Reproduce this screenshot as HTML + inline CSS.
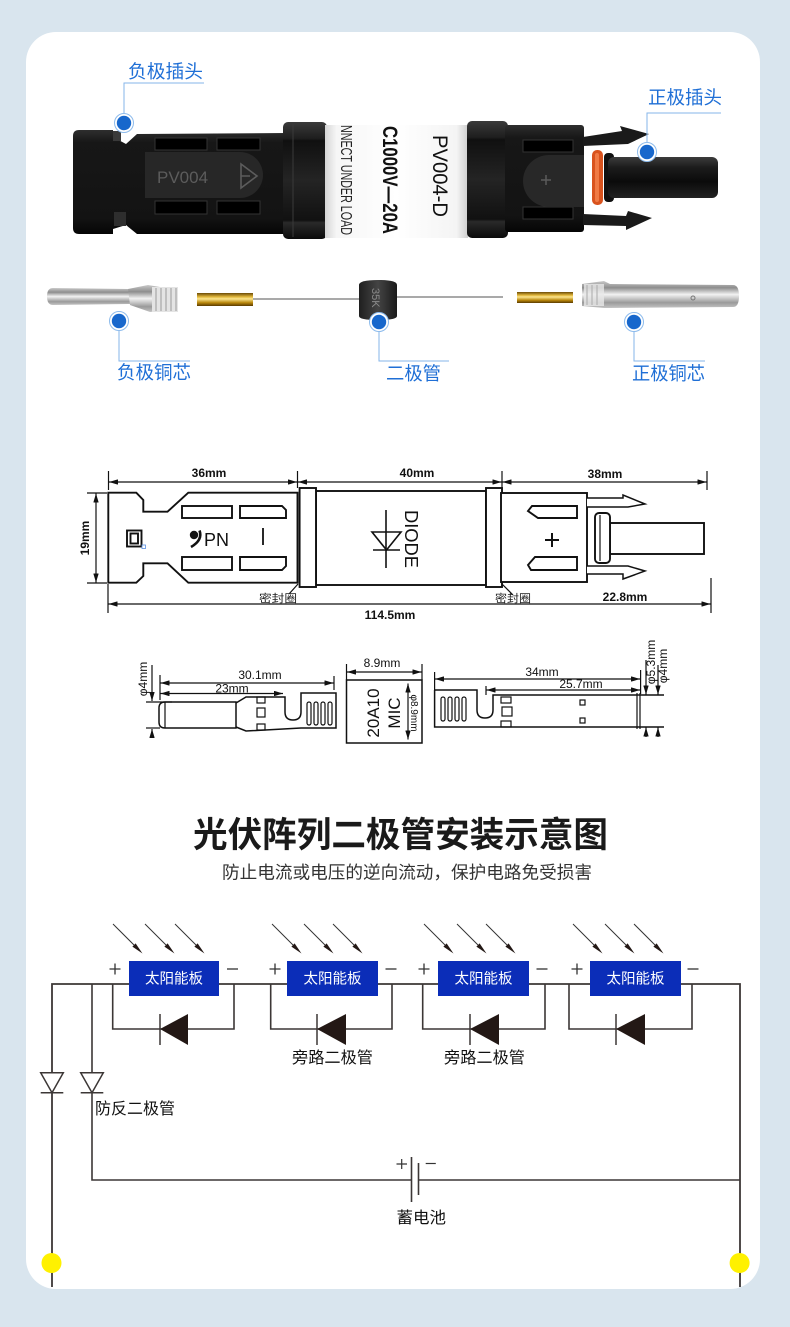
<!DOCTYPE html>
<html><head><meta charset="utf-8">
<style>
html,body{margin:0;padding:0;background:#d9e5ee;}
svg{display:block}
text{font-family:"Liberation Sans","Noto Sans CJK SC",sans-serif;}
</style></head><body>
<svg width="790" height="1327" viewBox="0 0 790 1327" xmlns="http://www.w3.org/2000/svg">
<defs>
<marker id="ar" viewBox="0 0 10 6" refX="10" refY="3" markerUnits="userSpaceOnUse" markerWidth="9" markerHeight="5.4" orient="auto-start-reverse"><path d="M0,0 L10,3 L0,6 Z" fill="#111"/></marker>
<linearGradient id="gBlk" x1="0" y1="0" x2="0" y2="1">
<stop offset="0" stop-color="#2e2e2e"/><stop offset="0.12" stop-color="#171717"/><stop offset="0.85" stop-color="#131313"/><stop offset="1" stop-color="#050505"/></linearGradient>
<linearGradient id="gNut" x1="0" y1="0" x2="0" y2="1">
<stop offset="0" stop-color="#3a3a3a"/><stop offset="0.14" stop-color="#1e1e1e"/><stop offset="0.16" stop-color="#101010"/><stop offset="0.5" stop-color="#242424"/><stop offset="0.84" stop-color="#111"/><stop offset="0.86" stop-color="#2a2a2a"/><stop offset="1" stop-color="#0a0a0a"/></linearGradient>
<linearGradient id="gLab" x1="0" y1="0" x2="1" y2="0">
<stop offset="0" stop-color="#d5d5d5"/><stop offset="0.08" stop-color="#f6f6f6"/><stop offset="0.5" stop-color="#ffffff"/><stop offset="0.92" stop-color="#f4f4f4"/><stop offset="1" stop-color="#cfcfcf"/></linearGradient>
<linearGradient id="gPin" x1="0" y1="0" x2="0" y2="1">
<stop offset="0" stop-color="#3c3c3c"/><stop offset="0.25" stop-color="#1c1c1c"/><stop offset="0.6" stop-color="#0b0b0b"/><stop offset="1" stop-color="#222"/></linearGradient>
<linearGradient id="gSil" x1="0" y1="0" x2="0" y2="1">
<stop offset="0" stop-color="#c9c9c9"/><stop offset="0.25" stop-color="#8e8e8e"/><stop offset="0.5" stop-color="#f2f2f2"/><stop offset="0.8" stop-color="#9a9a9a"/><stop offset="1" stop-color="#c4c4c4"/></linearGradient>
<linearGradient id="gGold" x1="0" y1="0" x2="0" y2="1">
<stop offset="0" stop-color="#6b4a05"/><stop offset="0.3" stop-color="#e2b83c"/><stop offset="0.45" stop-color="#fbe58e"/><stop offset="0.75" stop-color="#b8860b"/><stop offset="1" stop-color="#5a3a00"/></linearGradient>
<linearGradient id="gDio" x1="0" y1="0" x2="1" y2="0">
<stop offset="0" stop-color="#1f1f1f"/><stop offset="0.5" stop-color="#444"/><stop offset="1" stop-color="#1a1a1a"/></linearGradient>
</defs>

<!-- background + card -->
<rect width="790" height="1327" fill="#d9e5ee"/>
<rect x="26" y="32" width="734" height="1257" rx="30" fill="#ffffff"/>

<!-- ================= PHOTO: connector ================= -->
<!-- left plug -->
<path d="M79,130 L113,130 L113,137 L126,144 L137,134 L287,133 L287,234 L137,234 L126,225 L113,229 L113,234 L79,234 Q73,234 73,228 L73,136 Q73,130 79,130 Z" fill="url(#gBlk)"/>
<rect x="113" y="131" width="8" height="10" fill="#3a3a3a"/>
<rect x="114" y="212" width="12" height="14" fill="#2e2e2e"/>
<rect x="155" y="138" width="52" height="12" fill="#000" stroke="#333"/>
<rect x="217" y="138" width="43" height="12" fill="#000" stroke="#333"/>
<rect x="155" y="201" width="52" height="13" fill="#000" stroke="#333"/>
<rect x="217" y="201" width="43" height="13" fill="#000" stroke="#333"/>
<path d="M145,152 L240,152 A23,23 0 0 1 240,198 L145,198 Z" fill="#272727"/>
<text x="157" y="183" font-size="17" fill="#5c5c5c">PV004</text>
<path d="M241,164 L257,176 L241,188 Z M241,176 L250,176" fill="none" stroke="#5c5c5c" stroke-width="1.6"/>
<!-- left nut -->
<rect x="283" y="122" width="44" height="117" rx="5" fill="url(#gNut)"/>
<line x1="293" y1="124" x2="293" y2="237" stroke="#3a3a3a"/>
<!-- label -->
<rect x="325" y="125" width="143" height="113" fill="url(#gLab)"/>
<text transform="translate(433,135) rotate(90)" font-size="21" textLength="82" lengthAdjust="spacingAndGlyphs" fill="#111">PV004-D</text>
<text transform="translate(383,126) rotate(90)" font-size="21" font-weight="bold" textLength="108" lengthAdjust="spacingAndGlyphs" fill="#111">C1000V—20A</text>
<text transform="translate(341,125) rotate(90)" font-size="16" textLength="110" lengthAdjust="spacingAndGlyphs" fill="#222">NNECT UNDER LOAD</text>
<!-- right nut -->
<rect x="467" y="121" width="41" height="117" rx="5" fill="url(#gNut)"/>
<!-- right body -->
<rect x="505" y="125" width="79" height="107" rx="3" fill="url(#gBlk)"/>
<rect x="523" y="140" width="50" height="12" fill="#000" stroke="#333"/>
<rect x="523" y="207" width="50" height="12" fill="#000" stroke="#333"/>
<path d="M584,155 L549,155 A26,26 0 0 0 549,207 L584,207 Z" fill="#282828"/>
<path d="M541,180 L551,180 M546,175 L546,185" stroke="#5a5a5a" stroke-width="1.5"/>
<!-- clips -->
<path d="M583,137 L622,131 L620,126 L649,134 L628,144 L583,146 Z" fill="#1a1a1a"/>
<path d="M583,214 L626,216 L628,211 L652,218 L626,230 L626,226 L583,225 Z" fill="#1a1a1a"/>
<!-- o-ring + pin -->
<rect x="604" y="153" width="10" height="49" rx="4" fill="#111"/>
<rect x="592" y="150" width="11" height="55" rx="5" fill="#d9531e"/>
<rect x="595" y="153" width="4" height="49" rx="2" fill="#f07a45"/>
<rect x="608" y="157" width="110" height="41" rx="6" fill="url(#gPin)"/>

<!-- ================= components row ================= -->
<path d="M53,288 L130,289 L130,304 L53,305 Q47,305 47,296.5 Q47,288 53,288 Z" fill="url(#gSil)"/>
<path d="M128,289 L148,285 L160,287 L160,311 L150,312 L130,305 Z" fill="url(#gSil)"/>
<rect x="152" y="287" width="26" height="25" fill="#e4e4e4"/>
<g stroke="#9a9a9a" stroke-width="1"><line x1="156" y1="288" x2="156" y2="311"/><line x1="161" y1="288" x2="161" y2="311"/><line x1="166" y1="288" x2="166" y2="311"/><line x1="171" y1="288" x2="171" y2="311"/><line x1="176" y1="288" x2="176" y2="311"/></g>
<rect x="197" y="293" width="56" height="13" fill="url(#gGold)"/>
<line x1="253" y1="299" x2="360" y2="299" stroke="#a9a9a9" stroke-width="2"/>
<line x1="397" y1="297" x2="503" y2="297" stroke="#a9a9a9" stroke-width="2"/>
<path d="M359,285 Q359,280 378,280 Q397,280 397,285 L397,316 Q397,320 378,320 Q359,320 359,316 Z" fill="url(#gDio)"/>
<text transform="translate(372,288) rotate(90)" font-size="11" fill="#8a8a8a">35K</text>
<rect x="517" y="292" width="56" height="11" fill="url(#gGold)"/>
<path d="M582,284 L604,281 L610,284 L733,285 Q739,285 739,296 Q739,307 733,307 L610,308 L604,308 L582,306 Z" fill="url(#gSil)"/>
<rect x="584" y="284" width="20" height="22" fill="#e8e8e8" opacity="0.8"/>
<g stroke="#aaa" stroke-width="1"><line x1="587" y1="285" x2="587" y2="305"/><line x1="592" y1="285" x2="592" y2="305"/><line x1="597" y1="285" x2="597" y2="305"/></g>
<circle cx="693" cy="298" r="2" fill="none" stroke="#777"/>

<!-- ================= callouts ================= -->
<g stroke="#86b6ea" stroke-width="1" fill="none">
<polyline points="124,113 124,83 204,83"/>
<polyline points="647,142 647,113 721,113"/>
<polyline points="119,331 119,361 190,361"/>
<polyline points="379,332 379,361 449,361"/>
<polyline points="634,332 634,361 705,361"/>
</g>
<g>
<circle cx="124" cy="123" r="9.5" fill="#fff" stroke="#8dbbec"/><circle cx="124" cy="123" r="7.2" fill="#1767cc"/>
<circle cx="647" cy="152" r="9.5" fill="#fff" stroke="#8dbbec"/><circle cx="647" cy="152" r="7.2" fill="#1767cc"/>
<circle cx="119" cy="321" r="9.5" fill="#fff" stroke="#8dbbec"/><circle cx="119" cy="321" r="7.2" fill="#1767cc"/>
<circle cx="379" cy="322" r="9.5" fill="#fff" stroke="#8dbbec"/><circle cx="379" cy="322" r="7.2" fill="#1767cc"/>
<circle cx="634" cy="322" r="9.5" fill="#fff" stroke="#8dbbec"/><circle cx="634" cy="322" r="7.2" fill="#1767cc"/>
</g>
<g fill="#1f6fd6" font-size="18.5">
<text x="128" y="78" textLength="75" lengthAdjust="spacingAndGlyphs">负极插头</text>
<text x="648" y="104" textLength="74" lengthAdjust="spacingAndGlyphs">正极插头</text>
<text x="117" y="379" textLength="74" lengthAdjust="spacingAndGlyphs">负极铜芯</text>
<text x="386" y="380" textLength="55" lengthAdjust="spacingAndGlyphs">二极管</text>
<text x="632" y="380" textLength="73" lengthAdjust="spacingAndGlyphs">正极铜芯</text>
</g>

<!-- ================= technical drawing ================= -->
<g stroke="#111" stroke-width="1.2" fill="none">
<line x1="108.5" y1="471" x2="108.5" y2="490"/>
<line x1="297.5" y1="471" x2="297.5" y2="488"/>
<line x1="502" y1="471" x2="502" y2="490"/>
<line x1="707" y1="471" x2="707" y2="490"/>
<line x1="109" y1="482" x2="297" y2="482" marker-start="url(#ar)" marker-end="url(#ar)"/>
<line x1="298" y1="482" x2="501.5" y2="482" marker-start="url(#ar)" marker-end="url(#ar)"/>
<line x1="502.5" y1="482" x2="706.5" y2="482" marker-start="url(#ar)" marker-end="url(#ar)"/>
<line x1="87" y1="493" x2="107" y2="493"/>
<line x1="87" y1="583" x2="107" y2="583"/>
<line x1="96" y1="493.5" x2="96" y2="582.5" marker-start="url(#ar)" marker-end="url(#ar)"/>
<line x1="108" y1="584" x2="108" y2="613"/>
<line x1="711" y1="578" x2="711" y2="613"/>
<line x1="108.5" y1="604" x2="710.5" y2="604" marker-start="url(#ar)" marker-end="url(#ar)"/>
<line x1="298" y1="584" x2="289" y2="594"/>
<line x1="502" y1="584" x2="513" y2="595"/>
</g>
<g font-size="12" font-weight="bold" fill="#111" text-anchor="middle">
<text x="209" y="477">36mm</text>
<text x="417" y="477">40mm</text>
<text x="605" y="478">38mm</text>
<text x="390" y="619">114.5mm</text>
<text x="625" y="601">22.8mm</text>
<text transform="translate(89,538) rotate(-90)">19mm</text>
</g>
<g font-size="11" fill="#222">
<text x="259" y="602" textLength="38" lengthAdjust="spacingAndGlyphs">密封圈</text>
<text x="495" y="602" textLength="36" lengthAdjust="spacingAndGlyphs">密封圈</text>
</g>
<g stroke="#111" stroke-width="1.9" fill="#fff">
<path d="M108.3,492.7 L136.3,492.7 L143.3,500 L143.3,511.7 L167.5,511.7 L188.3,492.7 L297.5,492.7 L297.5,582.7 L188.3,582.7 L167.5,563.3 L143.3,563.3 L143.3,576 L136.3,582.7 L108.3,582.7 Z"/>
<rect x="182" y="506" width="50" height="12"/>
<path d="M240,506 L282,506 L286,510 L286,518 L240,518 Z"/>
<rect x="182" y="557" width="50" height="13"/>
<path d="M240,557 L286,557 L286,566 L282,570 L240,570 Z"/>
<rect x="127" y="530.5" width="14.5" height="16"/>
<rect x="130.5" y="533.5" width="7.5" height="10"/>
<rect x="316" y="491" width="170" height="94"/>
<rect x="299.6" y="488" width="16.4" height="99"/>
<rect x="486" y="488" width="16" height="99"/>
<rect x="501" y="493" width="86" height="89"/>
<path d="M532,506 L577,506 L577,518 L538,518 L528,511 Z"/>
<path d="M535,557 L577,557 L577,570 L531,570 L528,565 Z"/>
<path d="M587,498 L623,498 L623,495 L645,504 L628,507 L587,507" stroke-width="1.5"/>
<path d="M587,566 L628,566 L645,571 L623,579 L623,574 L587,574" stroke-width="1.5"/>
<rect x="610" y="523" width="94" height="31"/>
<rect x="595" y="513" width="15" height="50" rx="4"/>
</g>
<line x1="600" y1="515" x2="600" y2="561" stroke="#111" stroke-width="1.2"/>
<rect x="142" y="545" width="3.5" height="3.5" fill="#fff" stroke="#5a8fe0" stroke-width="0.8"/>
<circle cx="194" cy="535" r="4.2" fill="#111"/>
<path d="M199.5,530.5 Q203,540 191,547" stroke="#111" stroke-width="2.6" fill="none"/>
<text x="204" y="546" font-size="18" fill="#111">PN</text>
<line x1="263" y1="528" x2="263" y2="545" stroke="#111" stroke-width="1.8"/>
<g stroke="#111" stroke-width="1.6" fill="none">
<line x1="386" y1="510" x2="386" y2="568"/>
<path d="M372,532 L401,532 L386.5,550 Z"/>
<line x1="373" y1="550" x2="400" y2="550"/>
<path d="M545,540 L559,540 M552,533 L552,547" stroke-width="2"/>
</g>
<text transform="translate(405,510) rotate(90)" font-size="18" fill="#111" textLength="58" lengthAdjust="spacingAndGlyphs">DIODE</text>

<!-- small drawings -->
<g stroke="#111" stroke-width="1.2" fill="none">
<!-- left pin -->
<line x1="146" y1="702" x2="172" y2="702"/>
<line x1="146" y1="728" x2="160" y2="728"/>
<line x1="152" y1="665" x2="152" y2="701" marker-end="url(#ar)"/>
<line x1="152" y1="737" x2="152" y2="729" marker-end="url(#ar)"/>
<line x1="160" y1="675" x2="160" y2="700"/>
<line x1="334" y1="676" x2="334" y2="690"/>
<line x1="160.5" y1="683" x2="333.5" y2="683" marker-start="url(#ar)" marker-end="url(#ar)"/>
<line x1="160.5" y1="693.5" x2="283" y2="693.5" marker-start="url(#ar)" marker-end="url(#ar)"/>
<path d="M165,702 L236,702 L236,728 L165,728 Q159,728 159,722 L159,708 Q159,702 165,702 Z" stroke-width="1.5"/>
<line x1="165" y1="702" x2="165" y2="728"/>
<path d="M236,703 L246,697 L285,697 L285,712 Q285,720 293,720 Q301,720 301,712 L301,693 L336,693 L336,728 L301,728 L246,731 L236,727" stroke-width="1.5"/>
<rect x="257" y="697" width="8" height="6"/><rect x="257" y="708" width="8" height="9"/><rect x="257" y="724" width="8" height="6"/>
<rect x="307" y="702" width="4" height="23" rx="2"/><rect x="314" y="702" width="4" height="23" rx="2"/><rect x="321" y="702" width="4" height="23" rx="2"/><rect x="328" y="702" width="4" height="23" rx="2"/>
<!-- middle box -->
<line x1="346.5" y1="664" x2="346.5" y2="680"/>
<line x1="422" y1="664" x2="422" y2="680"/>
<line x1="347" y1="672" x2="421.5" y2="672" marker-start="url(#ar)" marker-end="url(#ar)"/>
<rect x="346.5" y="680" width="75.5" height="63" stroke-width="1.5"/>
<line x1="408" y1="683.5" x2="408" y2="739.5" marker-start="url(#ar)" marker-end="url(#ar)"/>
<!-- right pin -->
<line x1="434.6" y1="672" x2="434.6" y2="690"/>
<line x1="640.6" y1="670" x2="640.6" y2="694"/>
<line x1="486" y1="686" x2="486" y2="695"/>
<line x1="435" y1="679" x2="640" y2="679" marker-start="url(#ar)" marker-end="url(#ar)"/>
<line x1="486.5" y1="690" x2="640" y2="690" marker-start="url(#ar)" marker-end="url(#ar)"/>
<path d="M434.6,690 L477,690 L477,710 Q477,718 485,718 Q493,718 493,710 L493,695 L664,695 M434.6,690 L434.6,727 L664,727" stroke-width="1.5"/>
<rect x="441" y="697" width="4" height="24" rx="2"/><rect x="448" y="697" width="4" height="24" rx="2"/><rect x="455" y="697" width="4" height="24" rx="2"/><rect x="462" y="697" width="4" height="24" rx="2"/>
<rect x="501" y="697" width="10" height="6"/><rect x="502" y="707" width="10" height="9"/><rect x="501" y="721" width="10" height="6"/>
<rect x="580" y="700" width="5" height="5"/><rect x="580" y="718" width="5" height="5"/>
<line x1="637" y1="693" x2="637" y2="729"/><line x1="640" y1="693" x2="640" y2="729"/>
<line x1="646" y1="660" x2="646" y2="694.5" marker-end="url(#ar)"/>
<line x1="646" y1="737" x2="646" y2="727.5" marker-end="url(#ar)"/>
<line x1="658" y1="665" x2="658" y2="694.5" marker-end="url(#ar)"/>
<line x1="658" y1="737" x2="658" y2="727.5" marker-end="url(#ar)"/>
</g>
<g font-size="12" fill="#111" text-anchor="middle">
<text x="260" y="679">30.1mm</text>
<text x="232" y="692.5">23mm</text>
<text x="382" y="667">8.9mm</text>
<text x="542" y="676">34mm</text>
<text x="581" y="688">25.7mm</text>
<text transform="translate(147,679) rotate(-90)">φ4mm</text>
<text transform="translate(655,662) rotate(-90)">φ5.3mm</text>
<text transform="translate(667,666) rotate(-90)">φ4mm</text>
<text transform="translate(411,713) rotate(90)" font-size="10">φ8.9mm</text>
<text transform="translate(379,713) rotate(-90)" font-size="17">20A10</text>
<text transform="translate(400,713) rotate(-90)" font-size="17">MIC</text>
</g>

<!-- ================= title ================= -->
<text x="193" y="847" font-size="35" font-weight="bold" fill="#1a1a1a" textLength="415" lengthAdjust="spacingAndGlyphs">光伏阵列二极管安装示意图</text>
<text x="222" y="878.5" font-size="17.5" fill="#333" textLength="370" lengthAdjust="spacingAndGlyphs">防止电流或电压的逆向流动，保护电路免受损害</text>

<!-- ================= circuit ================= -->
<g stroke="#3c3736" stroke-width="1.6" fill="none">
<polyline points="52,1287 52,984 740,984 740,1287" stroke-width="1.8"/>
<polyline points="92,984 92,1180 411.5,1180"/>
<line x1="418.5" y1="1180" x2="740" y2="1180"/>
<line x1="411.5" y1="1157" x2="411.5" y2="1202"/>
<line x1="418.5" y1="1163" x2="418.5" y2="1195"/>
<polyline points="112.7,984 112.7,1029 234,1029 234,984"/>
<polyline points="270.7,984 270.7,1029 392,1029 392,984"/>
<polyline points="422.7,984 422.7,1029 545,1029 545,984"/>
<polyline points="569,984 569,1029 692,1029 692,984"/>
</g>
<!-- anti-reverse diodes -->
<g stroke="#3c3736" stroke-width="1.5" fill="#fff">
<polygon points="40.7,1072.7 63.3,1072.7 52,1092.7"/>
<line x1="40.7" y1="1092.7" x2="63.3" y2="1092.7"/>
<polygon points="80.7,1072.7 103.3,1072.7 92,1092.7"/>
<line x1="80.7" y1="1092.7" x2="103.3" y2="1092.7"/>
</g>
<!-- bypass diodes -->
<g fill="#231815" stroke="#3c3736" stroke-width="1.5">
<polygon points="160,1029 188,1014 188,1045" stroke="none"/><line x1="160" y1="1014" x2="160" y2="1045"/>
<polygon points="317,1029 346,1014 346,1045" stroke="none"/><line x1="317" y1="1014" x2="317" y2="1045"/>
<polygon points="470,1029 499,1014 499,1045" stroke="none"/><line x1="470" y1="1014" x2="470" y2="1045"/>
<polygon points="616,1029 645,1014 645,1045" stroke="none"/><line x1="616" y1="1014" x2="616" y2="1045"/>
</g>
<!-- panels -->
<g fill="#0b2db8">
<rect x="129" y="961" width="90" height="35"/>
<rect x="287" y="961" width="91" height="35"/>
<rect x="438" y="961" width="91" height="35"/>
<rect x="590" y="961" width="91" height="35"/>
</g>
<g fill="#fff" font-size="14.5" text-anchor="middle">
<text x="174" y="983.5">太阳能板</text>
<text x="332.5" y="983.5">太阳能板</text>
<text x="483.5" y="983.5">太阳能板</text>
<text x="635.5" y="983.5">太阳能板</text>
</g>
<!-- + / - -->
<g stroke="#333" stroke-width="1.3">
<path d="M109.5,969 L120.5,969 M115,963.5 L115,974.5"/><path d="M227,969 L238,969"/>
<path d="M269.5,969 L280.5,969 M275,963.5 L275,974.5"/><path d="M385.5,969 L396.5,969"/>
<path d="M418.5,969 L429.5,969 M424,963.5 L424,974.5"/><path d="M536.5,969 L547.5,969"/>
<path d="M571.5,969 L582.5,969 M577,963.5 L577,974.5"/><path d="M687.5,969 L698.5,969"/>
</g>
<!-- sun arrows -->
<g stroke="#333" stroke-width="1" fill="#231815">
<g transform="translate(113,924)"><line x1="0" y1="0" x2="21" y2="21"/><polygon points="29.5,29.5 22.6,19.4 19.4,22.6" stroke="none"/></g>
<g transform="translate(145,924)"><line x1="0" y1="0" x2="21" y2="21"/><polygon points="29.5,29.5 22.6,19.4 19.4,22.6" stroke="none"/></g>
<g transform="translate(175,924)"><line x1="0" y1="0" x2="21" y2="21"/><polygon points="29.5,29.5 22.6,19.4 19.4,22.6" stroke="none"/></g>
<g transform="translate(272,924)"><line x1="0" y1="0" x2="21" y2="21"/><polygon points="29.5,29.5 22.6,19.4 19.4,22.6" stroke="none"/></g>
<g transform="translate(304,924)"><line x1="0" y1="0" x2="21" y2="21"/><polygon points="29.5,29.5 22.6,19.4 19.4,22.6" stroke="none"/></g>
<g transform="translate(333,924)"><line x1="0" y1="0" x2="21" y2="21"/><polygon points="29.5,29.5 22.6,19.4 19.4,22.6" stroke="none"/></g>
<g transform="translate(424,924)"><line x1="0" y1="0" x2="21" y2="21"/><polygon points="29.5,29.5 22.6,19.4 19.4,22.6" stroke="none"/></g>
<g transform="translate(457,924)"><line x1="0" y1="0" x2="21" y2="21"/><polygon points="29.5,29.5 22.6,19.4 19.4,22.6" stroke="none"/></g>
<g transform="translate(486,924)"><line x1="0" y1="0" x2="21" y2="21"/><polygon points="29.5,29.5 22.6,19.4 19.4,22.6" stroke="none"/></g>
<g transform="translate(573,924)"><line x1="0" y1="0" x2="21" y2="21"/><polygon points="29.5,29.5 22.6,19.4 19.4,22.6" stroke="none"/></g>
<g transform="translate(605,924)"><line x1="0" y1="0" x2="21" y2="21"/><polygon points="29.5,29.5 22.6,19.4 19.4,22.6" stroke="none"/></g>
<g transform="translate(634,924)"><line x1="0" y1="0" x2="21" y2="21"/><polygon points="29.5,29.5 22.6,19.4 19.4,22.6" stroke="none"/></g>
</g>
<!-- circuit labels -->
<g fill="#111" font-size="16">
<text x="292" y="1063" textLength="81" lengthAdjust="spacingAndGlyphs">旁路二极管</text>
<text x="444" y="1063" textLength="81" lengthAdjust="spacingAndGlyphs">旁路二极管</text>
<text x="95" y="1114" textLength="80" lengthAdjust="spacingAndGlyphs">防反二极管</text>
<text x="396.5" y="1223" textLength="49.5" lengthAdjust="spacingAndGlyphs">蓄电池</text>
</g>
<g stroke="#333" stroke-width="1.2">
<path d="M396.5,1164 L407,1164 M401.7,1159 L401.7,1169"/>
<path d="M425.7,1163.5 L435.8,1163.5"/>
</g>
<!-- yellow dots -->
<circle cx="51.5" cy="1263" r="10" fill="#fff100"/>
<circle cx="739.6" cy="1263" r="10" fill="#fff100"/>
</svg>
</body></html>
